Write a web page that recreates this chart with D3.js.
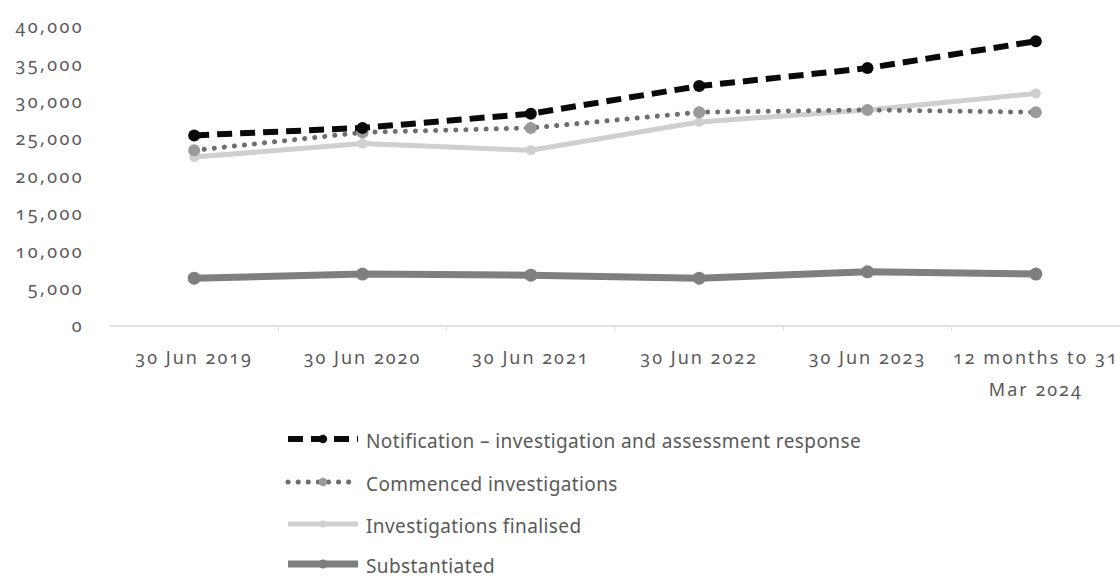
<!DOCTYPE html>
<html><head><meta charset="utf-8">
<script src="https://cdn.jsdelivr.net/npm/d3@7"></script>
<style>
body{margin:0;background:#fff;}
text{font-family:"Noto Sans","Open Sans",sans-serif;font-variant-numeric:oldstyle-nums;font-feature-settings:"onum";fill:#595959;}
</style></head>
<body><svg id="c" width="1120" height="580"></svg>
<script>
const categories = ["30 Jun 2019","30 Jun 2020","30 Jun 2021","30 Jun 2022","30 Jun 2023","12 months to 31 Mar 2024"];
const notification = [25500, 26500, 28400, 32100, 34500, 38100];
const commenced = [23500, 25900, 26500, 28600, 28900, 28600];
const finalised = [22600, 24400, 23500, 27300, 28900, 31100];
const substantiated = [6400, 6950, 6800, 6400, 7250, 6950];
const seriesNames = ["Notification \u2013 investigation and assessment response","Commenced investigations","Investigations finalised","Substantiated"];
const yTicks = [0,5000,10000,15000,20000,25000,30000,35000,40000];

const svg = d3.select("#c");
const x = d3.scaleBand().domain(categories).range([110,1120]);
const y = d3.scaleLinear().domain([0,40000]).range([326,27]);
const cx = d => x(d) + x.bandwidth()/2;

// y labels
svg.append("g").selectAll("text").data(yTicks).join("text")
  .attr("x",84).attr("y",d=>y(d)).attr("dy","0.35em").attr("text-anchor","end")
  .attr("font-size",18).attr("letter-spacing",2.4).text(d=>d3.format(",")(d));

// baseline
svg.append("line").attr("x1",x.range()[0]).attr("x2",x.range()[1]).attr("y1",y(0)).attr("y2",y(0))
  .attr("stroke","#d9d9d9").attr("stroke-width",1.5);
svg.append("g").selectAll("line").data(categories.slice(1)).join("line")
  .attr("x1",d=>x(d)).attr("x2",d=>x(d)).attr("y1",y(0)).attr("y2",y(0)+5)
  .attr("stroke","#d9d9d9").attr("stroke-width",1);

// x labels
const xl = svg.append("g");
categories.forEach((c,i)=>{
  const t = xl.append("text").attr("x",cx(c)).attr("y",364).attr("text-anchor","middle")
    .attr("font-size",18).attr("letter-spacing",2);
  if(i===5){
    t.append("tspan").attr("x",cx(c)).text("12 months to 31");
    t.append("tspan").attr("x",cx(c)).attr("dy",32).text("Mar 2024");
  } else t.text(c);
});

const styles = [
  {data:notification, color:"#0a0a0a", width:6, dash:"15,8", cap:"butt", mcolor:"#0a0a0a", r:6},
  {data:commenced, color:"#6e6e6e", width:5, dash:"0.1,10", cap:"round", mcolor:"#9a9a9a", r:6},
  {data:finalised, color:"#cfcfcf", width:5, dash:null, cap:"round", mcolor:"#cfcfcf", r:5},
  {data:substantiated, color:"#7f7f7f", width:7, dash:null, cap:"round", mcolor:"#7f7f7f", r:6.5}
];
const line = d3.line().x((d,i)=>cx(categories[i])).y(d=>y(d));
[3,2,1,0].forEach(k=>{
  const s = styles[k];
  svg.append("path").datum(s.data).attr("d",line).attr("fill","none")
    .attr("stroke",s.color).attr("stroke-width",s.width).attr("stroke-linecap",s.cap)
    .attr("stroke-dasharray",s.dash);
  svg.append("g").selectAll("circle").data(s.data).join("circle")
    .attr("cx",(d,i)=>cx(categories[i])).attr("cy",d=>y(d)).attr("r",s.r).attr("fill",s.mcolor);
});

// legend
const ly = [439,482,524,564];
styles.forEach((s,k)=>{
  const g = svg.append("g");
  g.append("line").attr("x1",288).attr("x2",358).attr("y1",ly[k]).attr("y2",ly[k])
    .attr("stroke",s.color).attr("stroke-width",s.width).attr("stroke-linecap",s.cap==="round"&&s.dash?"round":"butt")
    .attr("stroke-dasharray",s.dash);
  g.append("circle").attr("cx",323).attr("cy",ly[k]).attr("r",s.r*0.7).attr("fill",s.mcolor);
  g.append("text").attr("x",366).attr("y",ly[k]+2).attr("dy","0.35em").attr("font-size",19)
    .attr("letter-spacing",0.4).text(seriesNames[k]);
});
</script></body></html>
